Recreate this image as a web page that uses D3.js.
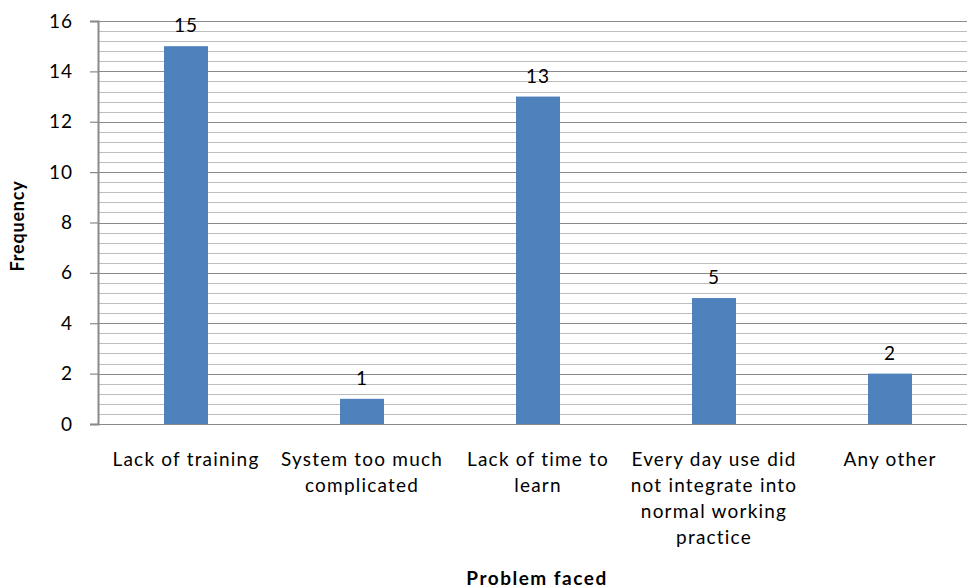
<!DOCTYPE html>
<html><head><meta charset="utf-8">
<script src="https://cdn.jsdelivr.net/npm/d3@7"></script>
<style>body{margin:0;background:#fff}svg{display:block}text{font-family:Lato,"Open Sans",sans-serif}</style>
</head><body>
<svg id="c" width="967" height="588"></svg>
<script>
const categories = ["Lack of training","System too much complicated","Lack of time to learn","Every day use did not integrate into normal working practice","Any other"];
const categoryLines = [["Lack of training"],["System too much","complicated"],["Lack of time to","learn"],["Every day use did","not integrate into","normal working","practice"],["Any other"]];
const values = [15,1,13,5,2];
const yTicks = [0,2,4,6,8,10,12,14,16];
const yTitle = "Frequency";
const xTitle = "Problem faced";

(function(){
const svg = d3.select("#c");
const mLeft = 98, mRight = 978, mTop = 21, mBottom = 424;
const x = d3.scaleBand().domain(categories).range([mLeft, mRight]);
const y = d3.scaleLinear().domain([0,16]).range([mBottom, mTop]);

// minor grid
const minor = d3.range(0, 16.001, 0.4);
svg.append("g").selectAll("line").data(minor).join("line")
  .attr("x1", mLeft).attr("x2", 967).attr("y1", d=>Math.round(y(d))+0.5).attr("y2", d=>Math.round(y(d))+0.5)
  .attr("stroke", "#bdbdbd").attr("stroke-width", 1);
// major grid
svg.append("g").selectAll("line").data(yTicks).join("line")
  .attr("x1", mLeft).attr("x2", 967).attr("y1", d=>Math.round(y(d))+0.5).attr("y2", d=>Math.round(y(d))+0.5)
  .attr("stroke", "#8a8a8a").attr("stroke-width", 1.2);

// bars
const bw = 44;
svg.append("g").selectAll("rect").data(values).join("rect")
  .attr("x", (d,i)=>x(categories[i]) + x.bandwidth()/2 - bw/2)
  .attr("width", bw)
  .attr("y", d=>y(d)).attr("height", d=>y(0)-y(d))
  .attr("fill", "#4f81bd");

// value labels
svg.append("g").selectAll("text").data(values).join("text")
  .attr("x", (d,i)=>x(categories[i]) + x.bandwidth()/2)
  .attr("y", d=>y(d)-14)
  .attr("text-anchor","middle").attr("font-size",19).attr("letter-spacing","1px").attr("fill","#000")
  .text(d=>d);

// y axis
const ya = d3.axisLeft(y).tickValues(yTicks).tickSize(8).tickPadding(17);
const gy = svg.append("g").attr("transform",`translate(${mLeft},0)`).call(ya);
gy.select(".domain").attr("stroke","#8a8a8a").attr("stroke-width",2);
gy.selectAll(".tick line").attr("stroke","#8a8a8a").attr("stroke-width",1.2);
gy.selectAll(".tick text").attr("font-size",19).attr("fill","#000").attr("font-family","Lato,sans-serif").attr("letter-spacing","1px");

// x axis
const xa = d3.axisBottom(x).tickSize(0).tickFormat("");
const gx = svg.append("g").attr("transform",`translate(0,${mBottom})`).call(xa);
gx.select(".domain").attr("stroke","#8a8a8a").attr("stroke-width",1.2).attr("d",`M${mLeft-8},0.5H967`);

// category labels
const cl = svg.append("g");
categories.forEach((c,i)=>{
  const t = cl.append("text").attr("x", x(c)+x.bandwidth()/2).attr("y", 466)
    .attr("text-anchor","middle").attr("font-size",19).attr("letter-spacing","1.2px").attr("fill","#000");
  categoryLines[i].forEach((l,j)=>{
    t.append("tspan").attr("x", x(c)+x.bandwidth()/2).attr("dy", j===0?0:26).text(l);
  });
});

// titles
svg.append("text").attr("transform","translate(24,226) rotate(-90)").attr("text-anchor","middle")
  .attr("font-size",18).attr("font-weight","bold").attr("letter-spacing","0.8px").attr("fill","#000").text(yTitle);
svg.append("text").attr("x",537).attr("y",585).attr("text-anchor","middle")
  .attr("font-size",19).attr("font-weight","bold").attr("letter-spacing","1.5px").attr("fill","#000").text(xTitle);
})();
</script>
</body></html>
